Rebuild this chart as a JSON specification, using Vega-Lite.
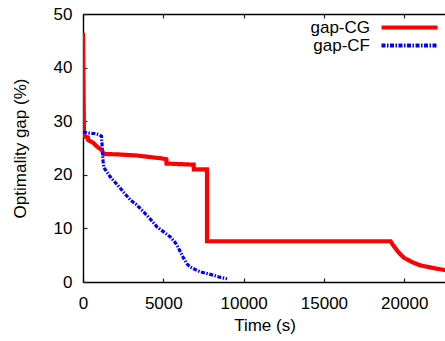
{
  "$schema": "https://vega.github.io/schema/vega-lite/v6.json",
  "width": 363,
  "height": 268,
  "autosize": {"type": "none"},
  "padding": {"left": 83, "top": 14, "right": 0, "bottom": 59},
  "background": "white",
  "config": {
    "view": {"stroke": null},
    "font": "Liberation Sans",
    "axis": {
      "grid": false,
      "domainColor": "black",
      "domainWidth": 1.4,
      "tickColor": "#222222",
      "tickWidth": 1.2,
      "tickSize": -4,
      "labelFontSize": 17,
      "labelColor": "black",
      "labelFont": "Liberation Sans",
      "titleFontSize": 17,
      "titleFontWeight": "normal",
      "titleColor": "black",
      "titleFont": "Liberation Sans",
      "labelFlush": false,
      "labelOverlap": false
    },
    "legend": {
      "orient": "none", "legendX": 318, "legendY": 5, "title": null,
      "symbolType": "M-28,0H28", "symbolSize": 4, "symbolStrokeWidth": 4,
      "rowPadding": 0, "padding": 0,
      "labelFontSize": 17, "labelFont": "Liberation Sans", "labelColor": "black",
      "labelAlign": "right", "labelOffset": -48
    }
  },
  "data": {
    "values": [
      {"series": "gap-CG", "i": 1, "t": 0, "gap": 46.5},
      {"series": "gap-CG", "i": 2, "t": 60, "gap": 27.2},
      {"series": "gap-CG", "i": 3, "t": 300, "gap": 27.0},
      {"series": "gap-CG", "i": 4, "t": 320, "gap": 26.5},
      {"series": "gap-CG", "i": 5, "t": 660, "gap": 25.9},
      {"series": "gap-CG", "i": 6, "t": 900, "gap": 25.2},
      {"series": "gap-CG", "i": 7, "t": 1180, "gap": 24.6},
      {"series": "gap-CG", "i": 8, "t": 1270, "gap": 23.9},
      {"series": "gap-CG", "i": 9, "t": 2200, "gap": 23.8},
      {"series": "gap-CG", "i": 10, "t": 3360, "gap": 23.6},
      {"series": "gap-CG", "i": 11, "t": 4200, "gap": 23.3},
      {"series": "gap-CG", "i": 12, "t": 4810, "gap": 23.1},
      {"series": "gap-CG", "i": 13, "t": 5190, "gap": 22.9},
      {"series": "gap-CG", "i": 14, "t": 5200, "gap": 22.1},
      {"series": "gap-CG", "i": 15, "t": 6790, "gap": 21.9},
      {"series": "gap-CG", "i": 16, "t": 6890, "gap": 21.9},
      {"series": "gap-CG", "i": 17, "t": 6900, "gap": 21.0},
      {"series": "gap-CG", "i": 18, "t": 7720, "gap": 21.0},
      {"series": "gap-CG", "i": 19, "t": 7720, "gap": 7.6},
      {"series": "gap-CG", "i": 20, "t": 19150, "gap": 7.6},
      {"series": "gap-CG", "i": 21, "t": 19300, "gap": 6.9},
      {"series": "gap-CG", "i": 22, "t": 19550, "gap": 5.9},
      {"series": "gap-CG", "i": 23, "t": 19750, "gap": 5.2},
      {"series": "gap-CG", "i": 24, "t": 20000, "gap": 4.5},
      {"series": "gap-CG", "i": 25, "t": 20500, "gap": 3.7},
      {"series": "gap-CG", "i": 26, "t": 21000, "gap": 3.1},
      {"series": "gap-CG", "i": 27, "t": 21500, "gap": 2.8},
      {"series": "gap-CG", "i": 28, "t": 22000, "gap": 2.5},
      {"series": "gap-CG", "i": 29, "t": 22600, "gap": 2.2},
      {"series": "gap-CF", "i": 1, "t": 0, "gap": 28.0},
      {"series": "gap-CF", "i": 2, "t": 300, "gap": 27.8},
      {"series": "gap-CF", "i": 3, "t": 700, "gap": 27.7},
      {"series": "gap-CF", "i": 4, "t": 1000, "gap": 27.5},
      {"series": "gap-CF", "i": 5, "t": 1150, "gap": 27.2},
      {"series": "gap-CF", "i": 6, "t": 1200, "gap": 25.0},
      {"series": "gap-CF", "i": 7, "t": 1250, "gap": 22.5},
      {"series": "gap-CF", "i": 8, "t": 1300, "gap": 21.3},
      {"series": "gap-CF", "i": 9, "t": 1500, "gap": 20.5},
      {"series": "gap-CF", "i": 10, "t": 1700, "gap": 19.6},
      {"series": "gap-CF", "i": 11, "t": 2000, "gap": 18.6},
      {"series": "gap-CF", "i": 12, "t": 2320, "gap": 17.5},
      {"series": "gap-CF", "i": 13, "t": 2600, "gap": 16.5},
      {"series": "gap-CF", "i": 14, "t": 2950, "gap": 15.3},
      {"series": "gap-CF", "i": 15, "t": 3300, "gap": 14.5},
      {"series": "gap-CF", "i": 16, "t": 3770, "gap": 13.1},
      {"series": "gap-CF", "i": 17, "t": 4200, "gap": 11.7},
      {"series": "gap-CF", "i": 18, "t": 4600, "gap": 10.3},
      {"series": "gap-CF", "i": 19, "t": 5000, "gap": 9.4},
      {"series": "gap-CF", "i": 20, "t": 5440, "gap": 8.4},
      {"series": "gap-CF", "i": 21, "t": 5700, "gap": 7.5},
      {"series": "gap-CF", "i": 22, "t": 5850, "gap": 6.9},
      {"series": "gap-CF", "i": 23, "t": 6050, "gap": 5.7},
      {"series": "gap-CF", "i": 24, "t": 6270, "gap": 4.4},
      {"series": "gap-CF", "i": 25, "t": 6500, "gap": 3.3},
      {"series": "gap-CF", "i": 26, "t": 6680, "gap": 2.8},
      {"series": "gap-CF", "i": 27, "t": 7000, "gap": 2.3},
      {"series": "gap-CF", "i": 28, "t": 7300, "gap": 1.9},
      {"series": "gap-CF", "i": 29, "t": 7700, "gap": 1.6},
      {"series": "gap-CF", "i": 30, "t": 8130, "gap": 1.25},
      {"series": "gap-CF", "i": 31, "t": 8500, "gap": 0.9},
      {"series": "gap-CF", "i": 32, "t": 8970, "gap": 0.6}
    ]
  },
  "encoding": {
    "x": {
      "field": "t", "type": "quantitative",
      "scale": {"domain": [0, 22600], "nice": false, "zero": false}
    },
    "y": {
      "field": "gap", "type": "quantitative",
      "scale": {"domain": [0, 50], "nice": false},
      "axis": {"values": [0, 10, 20, 30, 40, 50], "labelPadding": 15, "title": "Optimality gap (%)", "titlePadding": 24}
    },
    "order": {"field": "i", "type": "quantitative"},
    "color": {
      "field": "series", "type": "nominal",
      "scale": {"domain": ["gap-CG", "gap-CF"], "range": ["#ff0000", "#0000ff"]}
    },
    "strokeDash": {
      "field": "series", "type": "nominal",
      "scale": {"domain": ["gap-CG", "gap-CF"], "range": [[1, 0], [4, 1.5, 1.5, 1.5]]}
    }
  },
  "layer": [
    {
      "transform": [{"filter": "datum.series === 'gap-CG'"}],
      "mark": {"type": "line", "strokeWidth": 4.2, "clip": true},
      "encoding": {
        "x": {
          "field": "t", "type": "quantitative",
          "axis": {"orient": "bottom", "values": [0, 5000, 10000, 15000, 20000], "format": "d", "labelPadding": 17, "title": "Time (s)", "titlePadding": 6}
        }
      }
    },
    {
      "transform": [{"filter": "datum.series === 'gap-CF'"}],
      "mark": {"type": "line", "strokeWidth": 3.2, "clip": true},
      "encoding": {
        "x": {
          "field": "t", "type": "quantitative",
          "axis": {"orient": "top", "values": [0, 5000, 10000, 15000, 20000], "labels": false, "title": null}
        }
      }
    }
  ],
  "resolve": {"axis": {"x": "independent"}}
}
